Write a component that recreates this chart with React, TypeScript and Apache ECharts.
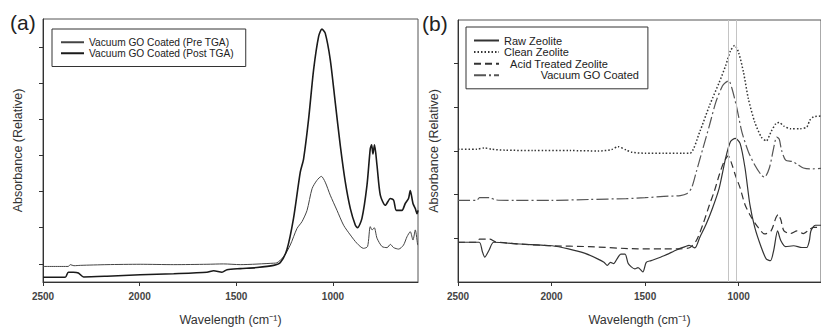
import React, { useEffect, useRef } from 'react';
import * as echarts from 'echarts';

const X_TICKS = [2500, 2000, 1500, 1000];
const Y_TICKS_A = [0.5, 1.5, 2.5, 3.5, 4.5, 5.5, 6.5];
const Y_TICKS_B = [1, 2, 3, 4, 5];
const REF_LINES_B = [1055, 1015];

const X_NAME = 'Wavelength (cm\u207B\u00B9)';
const Y_NAME = 'Absorbance (Relative)';

const NAME_PRE = 'Vacuum GO Coated (Pre TGA)';
const NAME_POST = 'Vacuum GO Coated (Post TGA)';
const NAME_RAW = 'Raw Zeolite';
const NAME_CLEAN = 'Clean Zeolite';
const NAME_ACID = '\u00a0\u00a0Acid Treated Zeolite';
const NAME_VAC = '\u00a0\u00a0\u00a0\u00a0\u00a0\u00a0\u00a0\u00a0\u00a0\u00a0\u00a0\u00a0Vacuum GO Coated';

// [wavenumber, relative absorbance]
const PRE_TGA = [
  [2500, 0.43], [2369, 0.43], [2359, 0.48], [2340, 0.45], [2307, 0.46], [2169, 0.48], [1997, 0.49],
  [1824, 0.48], [1652, 0.49], [1566, 0.5], [1479, 0.48], [1307, 0.52], [1290, 0.53], [1255, 0.7],
  [1221, 1.02], [1186, 1.48], [1160, 1.67], [1134, 1.98], [1108, 2.58], [1083, 2.81], [1060, 2.92],
  [1040, 2.76], [1014, 2.4], [979, 1.98], [945, 1.57], [910, 1.3], [876, 1.07], [842, 0.93],
  [821, 0.98], [807, 1.53], [797, 1.44], [786, 1.5], [772, 1.21], [746, 0.98], [720, 0.95],
  [703, 1.04], [686, 0.95], [660, 0.91], [635, 1.02], [617, 1.25], [600, 1.39], [586, 1.16],
  [574, 1.44], [562, 1.02],
];

const POST_TGA = [
  [2500, 0.13], [2385, 0.13], [2369, 0.27], [2343, 0.27], [2317, 0.25], [2290, 0.14], [2169, 0.16],
  [1997, 0.2], [1824, 0.23], [1652, 0.27], [1617, 0.31], [1574, 0.27], [1548, 0.34], [1479, 0.37],
  [1393, 0.4], [1307, 0.46], [1272, 0.54], [1238, 0.9], [1204, 1.76], [1169, 3.04], [1152, 3.4],
  [1126, 4.5], [1100, 5.87], [1074, 6.79], [1057, 6.99], [1040, 6.88], [1014, 6.15], [988, 4.96],
  [962, 3.77], [936, 2.76], [910, 2.03], [884, 1.57], [873, 1.5], [850, 1.76], [824, 2.67],
  [807, 3.68], [800, 3.79], [793, 3.54], [785, 3.79], [772, 3.22], [755, 2.4], [729, 2.12],
  [703, 2.31], [686, 2.26], [672, 1.98], [643, 1.98], [626, 2.17], [609, 2.31], [600, 2.53],
  [586, 2.17], [574, 2.03], [565, 1.89], [560, 1.98],
];

const RAW_ZEOLITE = [
  [2500, 0.91], [2387, 0.91], [2370, 0.7], [2357, 0.57], [2335, 0.72], [2309, 0.91], [2170, 0.87],
  [1997, 0.83], [1910, 0.76], [1824, 0.66], [1754, 0.53], [1720, 0.45], [1702, 0.38], [1685, 0.45],
  [1668, 0.42], [1650, 0.53], [1630, 0.64], [1607, 0.64], [1590, 0.42], [1555, 0.3], [1538, 0.33],
  [1512, 0.23], [1494, 0.45], [1468, 0.49], [1399, 0.6], [1330, 0.74], [1286, 0.81], [1265, 0.84],
  [1234, 0.78], [1208, 1.02], [1174, 1.32], [1139, 1.7], [1104, 2.15], [1070, 2.83], [1044, 3.21],
  [1018, 3.29], [992, 3.17], [966, 2.61], [940, 1.77], [914, 1.25], [879, 0.79], [853, 0.53],
  [830, 0.49], [813, 0.72], [792, 1.17], [775, 0.95], [749, 0.81], [706, 0.83], [662, 0.79],
  [636, 0.79], [622, 0.95], [614, 1.17], [590, 1.3], [560, 1.3],
];

const CLEAN_ZEOLITE = [
  [2500, 3.04], [2400, 3.04], [2360, 3.07], [2320, 3.04], [2250, 3.02], [2100, 3.01], [1900, 3.01],
  [1750, 3.0], [1680, 3.03], [1645, 3.1], [1600, 3.02], [1570, 2.97], [1500, 2.95], [1400, 2.95],
  [1300, 2.95], [1260, 2.95], [1208, 3.44], [1156, 4.04], [1104, 4.57], [1070, 4.95], [1044, 5.29],
  [1021, 5.42], [1000, 5.25], [974, 4.8], [948, 4.19], [914, 3.66], [879, 3.32], [853, 3.23],
  [827, 3.44], [801, 3.63], [783, 3.65], [758, 3.57], [723, 3.51], [671, 3.51], [636, 3.55],
  [620, 3.7], [600, 3.78], [560, 3.8],
];

const ACID_ZEOLITE = [
  [2500, 0.91], [2400, 0.91], [2385, 0.98], [2330, 0.98], [2300, 0.92], [2200, 0.88], [2007, 0.83],
  [1800, 0.81], [1539, 0.76], [1400, 0.76], [1312, 0.76], [1260, 0.79], [1226, 0.95], [1191, 1.32],
  [1156, 1.77], [1130, 2.08], [1104, 2.45], [1078, 2.76], [1056, 2.89], [1035, 2.68], [1018, 2.45],
  [992, 2.15], [966, 1.77], [931, 1.47], [896, 1.25], [862, 1.1], [827, 1.17], [801, 1.47],
  [789, 1.55], [775, 1.43], [758, 1.17], [723, 1.11], [688, 1.17], [654, 1.11], [619, 1.21],
  [600, 1.25], [560, 1.25],
];

const VACUUM_GO = [
  [2500, 1.87], [2400, 1.87], [2385, 1.93], [2330, 1.93], [2300, 1.88], [2200, 1.87], [2000, 1.87],
  [1800, 1.89], [1600, 1.91], [1500, 1.93], [1400, 1.96], [1312, 1.98], [1278, 2.02], [1252, 2.15],
  [1226, 2.53], [1191, 3.06], [1156, 3.59], [1122, 4.12], [1087, 4.49], [1070, 4.57], [1053, 4.61],
  [1035, 4.42], [1009, 3.97], [983, 3.44], [948, 2.98], [914, 2.68], [879, 2.45], [862, 2.4],
  [836, 2.61], [810, 3.13], [797, 3.32], [783, 3.27], [771, 3.02], [749, 2.79], [714, 2.76],
  [688, 2.7], [654, 2.61], [619, 2.59], [560, 2.6],
];

const FONT = "'Liberation Sans', Arial, sans-serif";

function xAxisFor(gridIndex: number) {
  return {
    gridIndex,
    type: 'value',
    inverse: true,
    min: 560,
    max: 2500,
    axisLine: { show: true, onZero: false, lineStyle: { color: '#333', width: 1 } },
    axisTick: { show: true, length: 4, customValues: X_TICKS, lineStyle: { color: '#333' } },
    axisLabel: {
      customValues: X_TICKS,
      formatter: (v: number) => String(v),
      fontSize: 10,
      fontWeight: 'bold',
      color: '#444',
      margin: 9,
      fontFamily: FONT,
    },
    splitLine: { show: false },
    name: X_NAME,
    nameLocation: 'middle',
    nameGap: 31,
    nameTextStyle: { fontSize: 12.5, color: '#333', fontFamily: FONT },
  };
}

function yAxisFor(gridIndex: number, max: number, ticks: number[], nameGap: number) {
  return {
    gridIndex,
    type: 'value',
    min: 0,
    max,
    axisLine: { show: true, onZero: false, lineStyle: { color: '#333', width: 1 } },
    axisTick: { show: true, length: 4, customValues: ticks, lineStyle: { color: '#333' } },
    axisLabel: { show: false },
    splitLine: { show: false },
    name: Y_NAME,
    nameLocation: 'middle',
    nameGap,
    nameTextStyle: { fontSize: 12.5, color: '#333', fontFamily: FONT },
  };
}

function lineSeries(name: string, data: number[][], idx: number, color: string, width: number, type: any) {
  return {
    name,
    type: 'line',
    xAxisIndex: idx,
    yAxisIndex: idx,
    data,
    symbol: 'none',
    showSymbol: false,
    smooth: 0.25,
    lineStyle: { color, width, type },
    itemStyle: { color },
  };
}

const legendBase = {
  orient: 'vertical',
  itemHeight: 10,
  borderColor: '#333',
  borderWidth: 1,
  itemStyle: { opacity: 0, borderWidth: 0 },
};

export default function App() {
  const ref = useRef<HTMLDivElement>(null);
  useEffect(() => {
    if (!ref.current) return;
    const chart = echarts.init(ref.current, undefined, { renderer: 'svg' });
    const rawSeries: any = lineSeries(NAME_RAW, RAW_ZEOLITE, 1, '#333', 1.2, 'solid');
    rawSeries.markLine = {
      silent: true,
      symbol: ['none', 'none'],
      label: { show: false },
      lineStyle: { color: '#c4c4c4', type: 'solid', width: 1 },
      data: REF_LINES_B.map((v) => ({ xAxis: v })),
    };
    chart.setOption({
      animation: false,
      backgroundColor: '#fff',
      textStyle: { fontFamily: FONT },
      title: [
        { text: '(a)', left: 10, top: 12, padding: 0, textStyle: { fontSize: 21, fontWeight: 'normal', color: '#222', fontFamily: FONT } },
        { text: '(b)', left: 422, top: 13, padding: 0, textStyle: { fontSize: 21, fontWeight: 'normal', color: '#222', fontFamily: FONT } },
      ],
      grid: [
        { left: 43, top: 19, width: 375, height: 265, show: true, borderColor: '#555', borderWidth: 1, backgroundColor: 'transparent' },
        { left: 458, top: 20, width: 373, height: 265, show: true, borderColor: '#555', borderWidth: 1, backgroundColor: 'transparent' },
      ],
      xAxis: [xAxisFor(0), xAxisFor(1)],
      yAxis: [yAxisFor(0, 7.27, Y_TICKS_A, 19), yAxisFor(1, 6, Y_TICKS_B, 18)],
      legend: [
        {
          ...legendBase,
          data: [NAME_PRE, NAME_POST],
          left: 52,
          top: 29,
          padding: [8, 12, 8, 8],
          itemWidth: 23,
          itemGap: 0.5,
          textStyle: { fontSize: 10.2, color: '#222', fontFamily: FONT, lineHeight: 10.5 },
        },
        {
          ...legendBase,
          data: [NAME_RAW, NAME_CLEAN, NAME_ACID, NAME_VAC],
          left: 466,
          top: 27,
          padding: [8, 9, 8, 7],
          itemWidth: 25,
          itemGap: 0.6,
          textStyle: { fontSize: 11, color: '#222', fontFamily: FONT, lineHeight: 11 },
        },
      ],
      series: [
        lineSeries(NAME_PRE, PRE_TGA, 0, '#444', 1, 'solid'),
        lineSeries(NAME_POST, POST_TGA, 0, '#1a1a1a', 1.6, 'solid'),
        rawSeries,
        lineSeries(NAME_CLEAN, CLEAN_ZEOLITE, 1, '#333', 1.5, [1.5, 2]),
        lineSeries(NAME_ACID, ACID_ZEOLITE, 1, '#333', 1.2, [7, 4]),
        lineSeries(NAME_VAC, VACUUM_GO, 1, '#555', 1.2, [12, 3, 2, 3]),
      ],
    });
    return () => chart.dispose();
  }, []);
  return <div ref={ref} style={{ position: 'absolute', left: 0, top: 0, width: 821, height: 331 }} />;
}
